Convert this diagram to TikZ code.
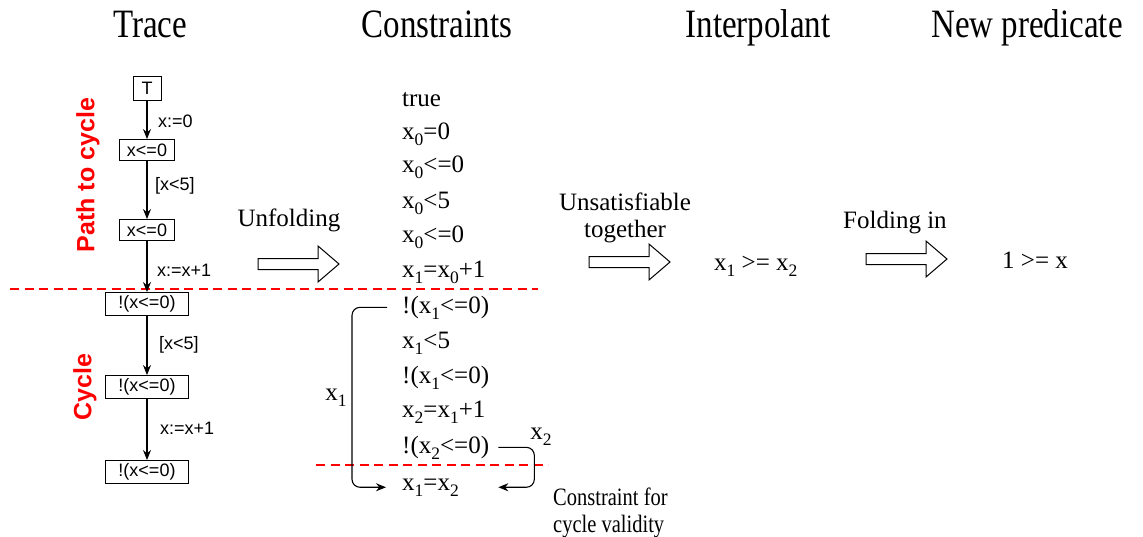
\documentclass[tikz,border=0pt]{standalone}
\usepackage{fontspec}
\setmainfont{Liberation Serif}
\newfontfamily\arialf{Liberation Sans}
\usetikzlibrary{arrows.meta,calc}
\newcommand\sbs[1]{\raisebox{-0.24em}{\fontsize{17.5}{17.5}\selectfont #1}}
\tikzset{
  tbox/.style={draw, line width=0.9pt, inner sep=0pt, font=\arialf\fontsize{18}{18}\selectfont},
  tlab/.style={anchor=west, inner sep=0pt, font=\arialf\fontsize{18}{18}\selectfont},
  tarrow/.style={line width=1.1pt, -{Stealth[length=10pt,width=8pt]}},
  cons/.style={anchor=base west, inner sep=0pt, font=\fontsize{25}{25}\selectfont},
  serif/.style={inner sep=0pt, font=\fontsize{25}{25}\selectfont},
  title/.style={anchor=base, inner sep=0pt, font=\fontsize{33}{33}\selectfont},
  redlab/.style={rotate=90, inner sep=0pt, text=red, font=\arialf\bfseries\fontsize{25}{25}\selectfont},
  reddash/.style={red, line width=2pt, dash pattern=on 9pt off 5.5pt},
  blockarrow/.style={draw, line width=1pt, fill=white, line join=miter},
}
\newcommand\blockarr[2]{%
  \draw[blockarrow] (#1,#2-5.5) -- (#1+60,#2-5.5) -- (#1+60,#2-18) -- (#1+81,#2)
    -- (#1+60,#2+18) -- (#1+60,#2+5.5) -- (#1,#2+5.5) -- cycle;}
\begin{document}
\begin{tikzpicture}[x=1pt,y=-1pt]
\useasboundingbox (0,0) rectangle (1143,536);

% titles
\node[title] (h1) at (150,37) {\scalebox{1}[1.22]{Trace}};
\node[title] (h2) at (437,37) {\scalebox{1}[1.22]{Constraints}};
\node[title] (h3) at (758,37) {\scalebox{1}[1.22]{Interpolant}};
\node[title] (h4) at (1027,37) {\scalebox{1}[1.22]{New predicate}};

% red dashed separators
\draw[reddash] (10,289) -- (538,289);
\draw[reddash] (316,465) -- (548,465);

% trace
\node[tbox, minimum width=28pt, minimum height=24pt] (t) at (147,88) {T};
\node[tbox, minimum width=55pt, minimum height=21pt] (b1) at (147,150) {x<=0};
\node[tbox, minimum width=55pt, minimum height=21pt] (b2) at (147,230) {x<=0};
\node[tbox, minimum width=83pt, minimum height=23pt] (b3) at (147,304) {!(x<=0)};
\node[tbox, minimum width=83pt, minimum height=23pt] (b4) at (147,387) {!(x<=0)};
\node[tbox, minimum width=83pt, minimum height=23pt] (b5) at (147,472) {!(x<=0)};
\draw[tarrow] (t) -- (b1);
\draw[tarrow] (b1) -- (b2);
\draw[tarrow] (b2) -- (b3);
\draw[tarrow] (b3) -- (b4);
\draw[tarrow] (b4) -- (b5);
\node[tlab] (l1) at (158,121) {x:=0};
\node[tlab] (l2) at (155,186) {[x<5]};
\node[tlab] (l3) at (157,270) {x:=x+1};
\node[tlab] (l4) at (159,345) {[x<5]};
\node[tlab] (l5) at (160,428) {x:=x+1};
\node[redlab] (p) at (88,175) {Path to cycle};
\node[redlab] (cy) at (85,387) {Cycle};

% constraints
\node[cons] (c1) at (402,106) {true};
\node[cons] (c2) at (402,139) {x\sbs{0}=0};
\node[cons] (c3) at (402,172) {x\sbs{0}<=0};
\node[cons] (c4) at (402,208) {x\sbs{0}<5};
\node[cons] (c5) at (402,242) {x\sbs{0}<=0};
\node[cons] (c6) at (402,277) {x\sbs{1}=x\sbs{0}+1};
\node[cons] (c7) at (402,313) {!(x\sbs{1}<=0)};
\node[cons] (c8) at (402,348) {x\sbs{1}<5};
\node[cons] (c9) at (402,383) {!(x\sbs{1}<=0)};
\node[cons] (c10) at (402,417) {x\sbs{2}=x\sbs{1}+1};
\node[cons] (c11) at (402,453) {!(x\sbs{2}<=0)};
\node[cons] (c12) at (402,490) {x\sbs{1}=x\sbs{2}};

% brackets
\draw[tarrow, rounded corners=8pt] ([xshift=-15pt]c7.west) -| ([xshift=-50pt]c12.west) -- ([xshift=-16pt]c12.west);
\coordinate (x2s) at ($(c11.east)+(9pt,0)$);
\coordinate (x2e) at ($(c11.east |- c12.west)+(9pt,0)$);
\draw[tarrow, rounded corners=8pt] (x2s) -| ($(x2e)+(36pt,0)$) -- (x2e);
\node[serif] (lx1) at (336,398) {x\sbs{1}};
\node[serif] (lx2) at (541,437) {x\sbs{2}};
\node[anchor=base west, inner sep=0pt, font=\fontsize{20.5}{20.5}\selectfont] (cv1) at (553,505) {\scalebox{1}[1.22]{Constraint for}};
\node[anchor=base west, inner sep=0pt, font=\fontsize{20.5}{20.5}\selectfont] (cv2) at (553,532) {\scalebox{1}[1.22]{cycle validity}};

% pipeline
\node[serif, anchor=base] (u) at (289,226) {Unfolding};
\blockarr{258}{264}
\node[serif, anchor=base] (us1) at (625,210) {Unsatisfiable};
\node[serif, anchor=base] (us2) at (625,237) {together};
\blockarr{589}{262}
\node[serif, anchor=base west] (ip) at (714,270) {x\sbs{1} >= x\sbs{2}};
\node[serif, anchor=base west] (fi) at (843,228) {Folding in};
\blockarr{866}{259}
\node[serif, anchor=base west] (np) at (1002,268) {1 >= x};
\end{tikzpicture}
\end{document}
